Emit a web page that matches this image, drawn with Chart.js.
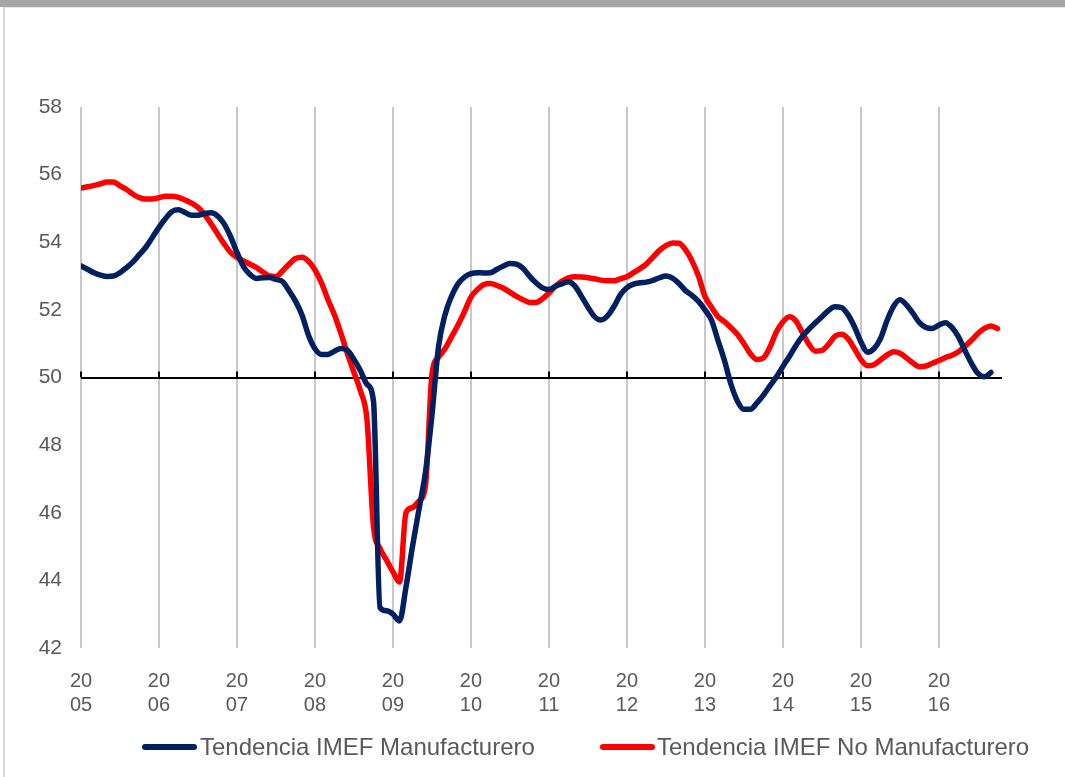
<!DOCTYPE html>
<html><head><meta charset="utf-8">
<script src="https://cdn.jsdelivr.net/npm/chart.js@4/dist/chart.umd.min.js"></script>
<style>
html,body{margin:0;padding:0;background:#fff;}
#wrap{position:relative;width:1065px;height:777px;overflow:hidden;background:#fff;}
#topbar{position:absolute;left:0;top:0;width:1065px;height:7px;background:#a6a6a6;}
#frame{position:absolute;left:3px;top:7px;width:1062px;height:770px;border-left:2px solid #d9d9d9;border-top:1px solid #e4e4e4;}
canvas{position:absolute;left:0;top:0;}
.lg{position:absolute;font-family:"Liberation Sans",Arial,sans-serif;font-size:24px;color:#595959;line-height:26px;top:734px;white-space:nowrap;}
.sw{position:absolute;top:744px;width:55px;height:6px;border-radius:3px;}
</style></head><body>
<div id="wrap">
<div id="topbar"></div><div id="frame"></div>
<canvas id="c" width="1065" height="777"></canvas>
<div id="sw0" class="sw" style="left:142px"></div><div id="lg0" class="lg" style="left:200px"></div>
<div id="sw1" class="sw" style="left:600px"></div><div id="lg1" class="lg" style="left:657px"></div>
</div>
<script>
// Year tick labels (monthly data starting January 2005)
const yearLabels = ["2005","2006","2007","2008","2009","2010","2011","2012","2013","2014","2015","2016"];
const seriesNames = ["Tendencia IMEF Manufacturero", "Tendencia IMEF No Manufacturero"];
const seriesColors = ["#002060", "#ff0000"];
const axisCross = 50;

// Tendencia IMEF Manufacturero, monthly Jan 2005 - Sep 2016
const manufacturero = [
  53.30, 53.20, 53.10, 53.03, 52.99, 53.00, 53.10, 53.25, 53.42, 53.64, 53.86, 54.15,
  54.44, 54.70, 54.91, 54.96, 54.88, 54.80, 54.80, 54.85, 54.87, 54.78, 54.55, 54.17,
  53.70, 53.28, 53.05, 52.93, 52.95, 52.96, 52.90, 52.84, 52.57, 52.26, 51.85, 51.25,
  50.85, 50.68, 50.68, 50.78, 50.86, 50.80, 50.53, 50.20, 49.80, 49.30, 43.20, 43.10,
  43.00, 42.80, 43.80, 45.00, 46.10, 47.20, 48.90, 50.90, 51.85, 52.40, 52.77, 52.97,
  53.07, 53.10, 53.09, 53.10, 53.20, 53.30, 53.37, 53.35, 53.23, 53.00, 52.80, 52.65,
  52.60, 52.70, 52.77, 52.83, 52.70, 52.40, 52.08, 51.80, 51.70, 51.82, 52.10, 52.45,
  52.66, 52.76, 52.80, 52.82, 52.87, 52.95, 53.00, 52.94, 52.78, 52.57, 52.43, 52.25,
  52.00, 51.70, 51.10, 50.50, 49.80, 49.30, 49.06, 49.06, 49.25, 49.48, 49.75, 50.02,
  50.33, 50.63, 50.95, 51.22, 51.43, 51.62, 51.80, 51.98, 52.09, 52.07, 51.86, 51.50,
  51.05, 50.75, 50.85, 51.15, 51.68, 52.10, 52.30, 52.15, 51.90, 51.62, 51.48, 51.45,
  51.55, 51.62, 51.48, 51.20, 50.80, 50.42, 50.12, 50.02, 50.15
];

// Tendencia IMEF No Manufacturero, monthly Jan 2005 - Oct 2016
const noManufacturero = [
  55.60, 55.64, 55.68, 55.73, 55.78, 55.78, 55.67, 55.56, 55.42, 55.32, 55.28, 55.28,
  55.32, 55.36, 55.36, 55.33, 55.25, 55.16, 55.03, 54.82, 54.55, 54.25, 53.96, 53.70,
  53.55, 53.45, 53.35, 53.25, 53.12, 53.00, 52.99, 53.15, 53.35, 53.52, 53.56, 53.44,
  53.18, 52.80, 52.30, 51.85, 51.30, 50.70, 50.15, 49.60, 48.75, 45.60, 44.95, 44.60,
  44.25, 43.95, 46.00, 46.15, 46.35, 46.80, 50.10, 50.60, 50.85, 51.20, 51.55, 51.95,
  52.38, 52.60, 52.75, 52.78, 52.72, 52.64, 52.52, 52.40, 52.30, 52.22, 52.22, 52.33,
  52.50, 52.70, 52.85, 52.95, 52.98, 52.97, 52.95, 52.92, 52.88, 52.86, 52.86, 52.92,
  52.98, 53.10, 53.22, 53.36, 53.56, 53.76, 53.90, 53.98, 53.97, 53.78, 53.45, 53.00,
  52.40, 52.08, 51.80, 51.65, 51.47, 51.27, 51.00, 50.70, 50.53, 50.58, 50.90, 51.35,
  51.65, 51.80, 51.67, 51.32, 50.98, 50.78, 50.80, 50.98, 51.22, 51.28, 51.15, 50.85,
  50.53, 50.35, 50.38, 50.52, 50.66, 50.76, 50.72, 50.58, 50.43, 50.32, 50.34, 50.42,
  50.50, 50.59, 50.66, 50.76, 50.92, 51.10, 51.30, 51.45, 51.52, 51.45
];

const FONT = '"Liberation Sans", Arial, sans-serif';
const toPts = arr => arr.map((v, i) => ({x: i, y: v}));

// HTML legend from series names/colors
seriesNames.forEach((n, i) => {
  document.getElementById('lg' + i).textContent = n;
  document.getElementById('sw' + i).style.background = seriesColors[i];
});

const axisTicks = {
  id: 'axisTicks',
  beforeDatasetsDraw(chart) {
    const xs = chart.scales.x, ys = chart.scales.y, ctx = chart.ctx;
    const yp = ys.getPixelForValue(axisCross);
    ctx.save();
    ctx.strokeStyle = '#000';
    ctx.lineWidth = 2;
    ctx.beginPath();
    xs.ticks.forEach(t => {
      const px = Math.round(xs.getPixelForValue(t.value));
      ctx.moveTo(px, yp - 6);
      ctx.lineTo(px, yp);
    });
    ctx.stroke();
    ctx.restore();
  }
};

new Chart(document.getElementById('c'), {
  type: 'line',
  data: {
    datasets: [
      {label: seriesNames[0], data: toPts(manufacturero), borderColor: seriesColors[0], backgroundColor: seriesColors[0],
       borderWidth: 5.5, pointRadius: 0, cubicInterpolationMode: 'monotone', fill: false,
       borderCapStyle: 'round', borderJoinStyle: 'round'},
      {label: seriesNames[1], data: toPts(noManufacturero), borderColor: seriesColors[1], backgroundColor: seriesColors[1],
       borderWidth: 5.5, pointRadius: 0, cubicInterpolationMode: 'monotone', fill: false,
       borderCapStyle: 'round', borderJoinStyle: 'round'}
    ]
  },
  options: {
    responsive: false,
    animation: false,
    devicePixelRatio: 1,
    layout: {padding: {left: 0, right: 63, top: 107, bottom: 0}},
    plugins: {legend: {display: false}, tooltip: {enabled: false}},
    scales: {
      x: {
        type: 'linear', min: 0, max: 141.7,
        border: {display: false},
        grid: {color: '#c8c8c8', lineWidth: 2, drawTicks: false},
        afterBuildTicks: s => { s.ticks = yearLabels.map((_, k) => ({value: k * 12})); },
        afterFit: s => { s.height = 129; },
        ticks: {
          autoSkip: false, maxRotation: 0, padding: 21, color: '#595959',
          font: {family: FONT, size: 20, lineHeight: 1.2},
          callback: (v, i) => { const y = yearLabels[i]; return y ? [y.slice(0, 2), y.slice(2)] : ''; }
        }
      },
      y: {
        min: 42, max: 58,
        border: {display: false},
        grid: {drawTicks: false, lineWidth: 2,
               color: c => (c.tick && c.tick.value === axisCross) ? '#000000' : 'rgba(0,0,0,0)'},
        afterFit: s => { s.width = 81; },
        ticks: {stepSize: 2, padding: 19, color: '#595959', font: {family: FONT, size: 21}}
      }
    }
  },
  plugins: [axisTicks]
});
</script>
</body></html>
